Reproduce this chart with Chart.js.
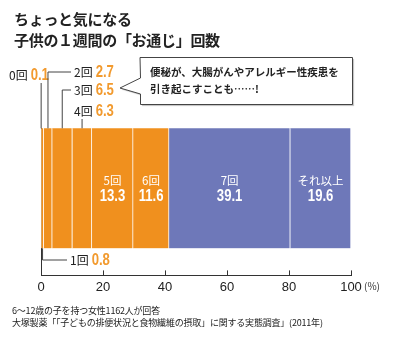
<!DOCTYPE html>
<html>
<head>
<meta charset="utf-8">
<script src="https://cdn.jsdelivr.net/npm/chart.js@4/dist/chart.umd.min.js"></script>
<style>
  body { margin: 0; background: #fff; }
  #wrap { position: relative; width: 400px; height: 343px; }
  #title {
    position: absolute; left: 14px; top: 8px;
    font: bold 15px/21px "Noto Sans CJK JP", sans-serif; color: #222; letter-spacing: -0.3px;
  }
  #note {
    position: absolute; left: 12px; top: 305px;
    font: 9px/12px "Noto Sans CJK JP", sans-serif; color: #222; letter-spacing: -0.2px;
  }
</style>
</head>
<body>
<div id="wrap">
  <canvas id="chart" width="400" height="343"></canvas>
  <div id="title">ちょっと気になる<br>子供の１週間の「お通じ」回数</div>
  <div id="note">6～12歳の子を持つ女性1162人が回答<br>大塚製薬「「子どもの排便状況と食物繊維の摂取」に関する実態調査」(2011年)</div>
</div>
<script>
const categories = ["0回", "1回", "2回", "3回", "4回", "5回", "6回", "7回", "それ以上"];
const shares = [0.1, 0.8, 2.7, 6.5, 6.3, 13.3, 11.6, 39.1, 19.6];
const xTicks = [0, 20, 40, 60, 80, 100];
const calloutLines = ["便秘が、大腸がんやアレルギー性疾患を", "引き起こすことも……!"];

const ORANGE = "#f0901e";
const BLUE = "#6e78b9";
const NUM_FONT = '"Liberation Sans", Arial, sans-serif';
const JP_FONT = '"Noto Sans CJK JP", sans-serif';

const datasets = categories.map((name, i) => ({
  label: name,
  data: [{ x: shares[i], y: 6 }],
  backgroundColor: i < 7 ? ORANGE : BLUE,
  borderColor: "#fff",
  borderWidth: { left: 0, right: 1, top: 0, bottom: 0 },
  borderSkipped: false,
  barThickness: 120,
}));

// outside labels: where the name/value sits and how the leader runs
const outside = {
  0: { lx: 9, ly: 75, leader: (cx, top) => [[cx, 83], [cx, top]] },
  2: { lx: 74, ly: 72, leader: (cx, top) => [[71, 72], [cx, 72], [cx, top]] },
  3: { lx: 74, ly: 90, leader: (cx, top) => [[71, 90], [cx, 90], [cx, top]] },
  4: { lx: 74, ly: 111, leader: (cx, top) => [[cx, 119], [cx, top]] },
};

// condensed bold number, squeezed horizontally like the print face
function drawNumber(ctx, text, x, y, align) {
  const sx = 0.82;
  ctx.save();
  ctx.font = "bold 16px " + NUM_FONT;
  ctx.textAlign = align;
  ctx.textBaseline = "middle";
  ctx.translate(x, y);
  ctx.scale(sx, 1);
  ctx.fillText(text, 0, 0);
  ctx.restore();
}

function drawLabel(ctx, x, y, name, value) {
  ctx.textBaseline = "middle";
  ctx.textAlign = "left";
  ctx.font = "12px " + JP_FONT;
  ctx.fillStyle = "#222";
  ctx.fillText(name, x, y);
  const w = ctx.measureText(name).width;
  ctx.fillStyle = "#f29a2e";
  drawNumber(ctx, value.toFixed(1), x + w + 3, y + 1, "left");
}

const annotations = {
  id: "annotations",
  afterDraw(chart) {
    const ctx = chart.ctx;
    const xs = chart.scales.x;
    const area = chart.chartArea;
    ctx.save();

    // upward tick marks on the x axis
    ctx.strokeStyle = "#333";
    ctx.lineWidth = 1;
    xTicks.slice(1).forEach((v) => {
      const px = Math.round(xs.getPixelForValue(v)) + 0.5;
      ctx.beginPath();
      ctx.moveTo(px, area.bottom);
      ctx.lineTo(px, area.bottom - 5);
      ctx.stroke();
    });

    categories.forEach((name, i) => {
      const el = chart.getDatasetMeta(i).data[0];
      const { x, base, y, height } = el.getProps(["x", "base", "y", "height"], true);
      const cx = (x + base) / 2;
      const top = y - height / 2;
      const bottom = y + height / 2;

      if (outside[i]) {
        const o = outside[i];
        ctx.strokeStyle = "#444";
        ctx.lineWidth = 1;
        ctx.beginPath();
        o.leader(cx, top).forEach(([px, py], k) => (k ? ctx.lineTo(px, py) : ctx.moveTo(px, py)));
        ctx.stroke();
        drawLabel(ctx, o.lx, o.ly, name, shares[i]);
      } else if (i === 1) {
        ctx.strokeStyle = "#444";
        ctx.beginPath();
        ctx.moveTo(cx, bottom);
        ctx.lineTo(cx, 260);
        ctx.lineTo(67, 260);
        ctx.stroke();
        drawLabel(ctx, 70, 260, name, shares[i]);
      } else {
        ctx.fillStyle = "#fff";
        ctx.textAlign = "center";
        ctx.textBaseline = "middle";
        ctx.font = "11.5px " + JP_FONT;
        ctx.fillText(name, cx, y - 8);
        drawNumber(ctx, shares[i].toFixed(1), cx, y + 8, "center");
      }
    });

    // callout
    ctx.beginPath();
    ctx.moveTo(140, 57.5);
    ctx.lineTo(352.5, 57.5);
    ctx.lineTo(352.5, 104.5);
    ctx.lineTo(140.5, 104.5);
    ctx.lineTo(140.5, 94);
    ctx.lineTo(120, 88);
    ctx.lineTo(140.5, 78);
    ctx.closePath();
    ctx.fillStyle = "#fff";
    ctx.shadowColor = "rgba(0,0,0,0.25)";
    ctx.shadowOffsetX = 1.5;
    ctx.shadowOffsetY = 1.5;
    ctx.shadowBlur = 1;
    ctx.fill();
    ctx.shadowColor = "transparent";
    ctx.strokeStyle = "#444";
    ctx.lineWidth = 1;
    ctx.stroke();
    ctx.fillStyle = "#222";
    ctx.textAlign = "left";
    ctx.textBaseline = "middle";
    ctx.font = "bold 10.5px " + JP_FONT;
    calloutLines.forEach((t, k) => ctx.fillText(t, 150, 72 + k * 17));

    // unit
    ctx.font = "10px " + JP_FONT;
    ctx.fillStyle = "#333";
    ctx.fillText("(%)", 364, 286);
    ctx.restore();
  },
};

new Chart(document.getElementById("chart"), {
  type: "bar",
  data: { labels: [6], datasets },
  options: {
    responsive: false,
    animation: false,
    indexAxis: "y",
    layout: { padding: { left: 41, right: 49, top: 128, bottom: 44 } },
    plugins: { legend: { display: false }, tooltip: { enabled: false } },
    scales: {
      x: {
        type: "linear",
        stacked: true,
        min: 0,
        max: 100,
        afterBuildTicks: (s) => { s.ticks = xTicks.map((v) => ({ value: v })); },
        grid: { display: false, drawTicks: false },
        border: { display: true, color: "#333", width: 1 },
        ticks: { color: "#222", padding: 4, font: { family: NUM_FONT, size: 13 } },
      },
      y: {
        type: "linear",
        stacked: true,
        min: 0,
        max: 10,
        grid: { display: false, drawTicks: false },
        border: { display: true, color: "#333", width: 1 },
        ticks: { display: false },
      },
    },
  },
  plugins: [annotations],
});
</script>
</body>
</html>
